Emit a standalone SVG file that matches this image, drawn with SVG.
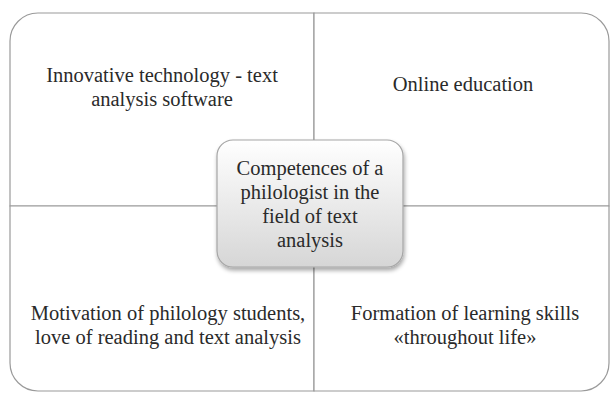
<svg xmlns="http://www.w3.org/2000/svg" width="613" height="394" viewBox="0 0 613 394">
<style>
.q{fill:#ffffff;stroke:#9a9a9a;stroke-width:1.2}
.t{font-family:"Liberation Serif","Times New Roman",serif;font-size:20.5px;fill:#2a2a2a;text-anchor:middle}
</style>
<defs>
<linearGradient id="g" x1="0" y1="0" x2="0" y2="1">
<stop offset="0" stop-color="#ffffff"/>
<stop offset="1" stop-color="#d6d6d6"/>
</linearGradient>
<filter id="sh" x="-10%" y="-10%" width="130%" height="130%">
<feGaussianBlur in="SourceAlpha" stdDeviation="2"/>
<feOffset dx="1" dy="3"/>
<feComponentTransfer><feFuncA type="linear" slope="0.35"/></feComponentTransfer>
<feMerge><feMergeNode/><feMergeNode in="SourceGraphic"/></feMerge>
</filter>
</defs>
<rect width="613" height="394" fill="#ffffff"/>
<g id="quad-tl">
<path class="q" d="M10,206 L10,41 A28,28 0 0 1 38,13 L314,13 L314,206 Z"/>
<text class="t" x="162" y="82">Innovative technology - text</text>
<text class="t" x="162" y="106">analysis software</text>
</g>
<g id="quad-tr">
<path class="q" d="M314,13 L581,13 A28,28 0 0 1 609,41 L609,206 L314,206 Z"/>
<text class="t" x="463" y="91">Online education</text>
</g>
<g id="quad-bl">
<path class="q" d="M10,206 L314,206 L314,391 L38,391 A28,28 0 0 1 10,363 Z"/>
<text class="t" x="168" y="320">Motivation of philology students,</text>
<text class="t" x="168" y="344">love of reading and text analysis</text>
</g>
<g id="quad-br">
<path class="q" d="M314,206 L609,206 L609,363 A28,28 0 0 1 581,391 L314,391 Z"/>
<text class="t" x="465" y="320">Formation of learning  skills</text>
<text class="t" x="465" y="344">«throughout life»</text>
</g>
<g id="connectors"></g>
<g id="center">
<rect x="217" y="140" width="186" height="127" rx="16" fill="url(#g)" stroke="#a6a6a6" stroke-width="1.2" filter="url(#sh)"/>
<text class="t" x="310" y="175">Competences of a</text>
<text class="t" x="310" y="199">philologist in the</text>
<text class="t" x="310" y="223">field of text</text>
<text class="t" x="310" y="247">analysis</text>
</g>
</svg>
